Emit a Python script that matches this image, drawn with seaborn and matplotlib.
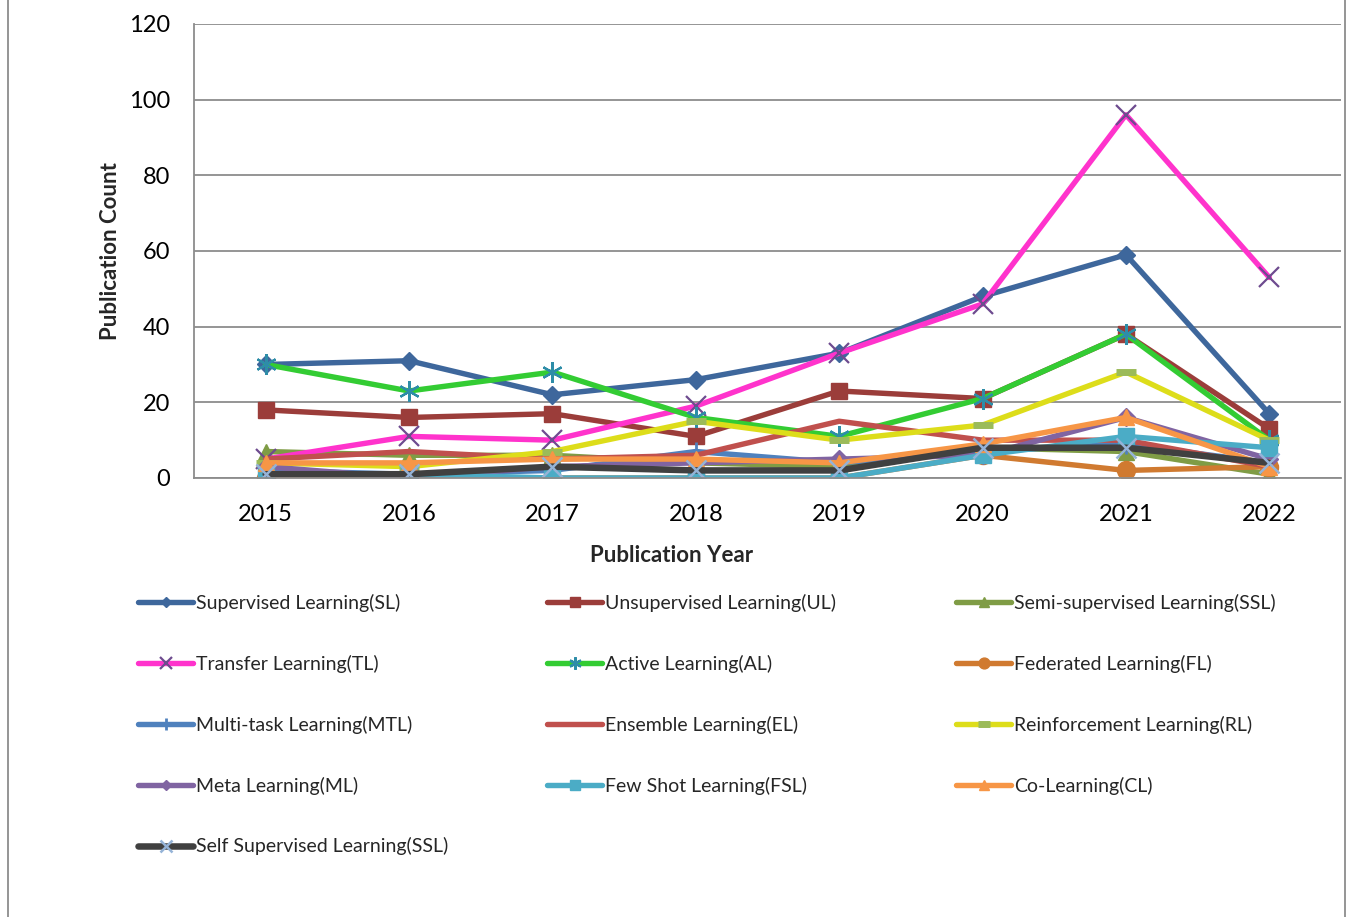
import matplotlib
matplotlib.use("Agg")
import matplotlib.pyplot as plt
import seaborn as sns
from matplotlib.lines import Line2D
from matplotlib.ticker import FixedLocator, MultipleLocator

years = ["2015", "2016", "2017", "2018", "2019", "2020", "2021", "2022"]

sl = [30, 31, 22, 26, 33, 48, 59, 17]
ul = [18, 16, 17, 11, 23, 21, 38, 13]
ssl_semi = [7, 6, 6, 4, 3, 8, 7, 1]
tl = [5, 11, 10, 19, 33, 46, 96, 53]
al = [30, 23, 28, 16, 11, 21, 38, 10]
fl = [0, 0, 0, 0, 0, 6, 2, 3]
mtl = [2, 1, 2, 7, 4, 7, 9, 4]
el = [5, 7, 5, 6, 15, 10, 10, 3]
rl = [4, 3, 7, 15, 10, 14, 28, 10]
ml = [3, 0, 3, 4, 5, 6, 16, 5]
fsl = [1, 1, 0, 0, 0, 6, 11, 8]
cl = [4, 4, 5, 5, 4, 9, 16, 3]
self_ssl = [1, 1, 3, 2, 2, 8, 8, 4]

series_names = [
    "Supervised Learning(SL)", "Unsupervised Learning(UL)", "Semi-supervised Learning(SSL)",
    "Transfer Learning(TL)", "Active Learning(AL)", "Federated Learning(FL)",
    "Multi-task Learning(MTL)", "Ensemble Learning(EL)", "Reinforcement Learning(RL)",
    "Meta Learning(ML)", "Few Shot Learning(FSL)", "Co-Learning(CL)",
    "Self Supervised Learning(SSL)",
]
series_values = [sl, ul, ssl_semi, tl, al, fl, mtl, el, rl, ml, fsl, cl, self_ssl]

# style: line color, marker, marker face, marker edge, marker size, mew, linewidth
styles = [
    ("#3E679C", "D", "#3E679C", "#3E679C", 9, 1, 3.9),
    ("#9B3D3A", "s", "#9B3D3A", "#9B3D3A", 11, 1, 3.9),
    ("#7F9C45", "^", "#7F9C45", "#7F9C45", 11, 1, 3.9),
    ("#FF33CC", "x", "#6E4B8F", "#6E4B8F", 14, 1.6, 3.9),
    ("#33CC33", (6, 2, 0), "#2E8DA8", "#2E8DA8", 15, 1.6, 3.9),
    ("#D07A30", "o", "#D07A30", "#D07A30", 13, 1, 3.9),
    ("#4F81BD", "|", "#4F81BD", "#4F81BD", 14, 2, 3.9),
    ("#C0504D", None, "#C0504D", "#C0504D", 0, 1, 3.9),
    ("#DDDD1A", "_", "#9BBB59", "#9BBB59", 14, 5, 3.9),
    ("#8064A2", "D", "#8064A2", "#8064A2", 9, 1, 3.9),
    ("#4BACC6", "s", "#4BACC6", "#4BACC6", 11, 1, 3.9),
    ("#F79646", "^", "#F79646", "#F79646", 12, 1, 3.9),
    ("#404040", "x", "#95B3D7", "#95B3D7", 14, 1.8, 4.7),
]

sns.set_style("white")
plt.rcParams["font.family"] = ["Lato", "DejaVu Sans"]

fig = plt.figure(figsize=(13.53, 9.17), dpi=100)
ax = fig.add_axes([194 / 1353, 1 - 478 / 917, (1341 - 194) / 1353, (478 - 24) / 917])

xpos = list(range(len(years)))
handles = []
for name, vals, st in zip(series_names, series_values, styles):
    color, marker, mfc, mec, ms, mew, lw = st
    kw = dict(color=color, linewidth=lw, solid_capstyle="round", solid_joinstyle="round")
    if marker is not None:
        kw.update(marker=marker, markersize=ms, markerfacecolor=mfc,
                  markeredgecolor=mec, markeredgewidth=mew)
    sns.lineplot(x=xpos, y=vals, ax=ax, legend=False, **kw)
    h = Line2D([0], [0], color=color, linewidth=lw, solid_capstyle="round",
               marker=marker if marker is not None else None,
               markersize=ms * 0.6 if marker is not None else 0,
               markerfacecolor=mfc, markeredgecolor=mec, markeredgewidth=mew)
    handles.append(h)

ax.set_xlim(-0.5, len(years) - 0.5)
ax.set_ylim(0, 120)
ax.yaxis.set_major_locator(MultipleLocator(20))
ax.set_xticks(xpos)
ax.set_xticklabels(years)
ax.xaxis.set_minor_locator(FixedLocator([i - 0.5 for i in range(len(years) + 1)]))
ax.tick_params(axis="x", which="major", length=0, labelsize=17, pad=19, colors="black")
ax.tick_params(axis="x", which="minor", length=7, width=1.3, color="#888888", direction="out")
ax.tick_params(axis="y", which="major", length=7, width=1.3, color="#888888",
               direction="out", labelsize=17, pad=10)
for lab in ax.get_yticklabels() + ax.get_xticklabels():
    lab.set_color("black")

ax.grid(axis="y", color="#8C8C8C", linewidth=1.3)
ax.grid(axis="x", visible=False)
ax.set_axisbelow(True)
for side in ["top", "right"]:
    ax.spines[side].set_visible(False)
for side in ["left", "bottom"]:
    ax.spines[side].set_color("#8C8C8C")
    ax.spines[side].set_linewidth(1.3)

ax.set_xlabel("Publication Year", fontsize=16, fontweight="bold", labelpad=14)
ax.xaxis.label.set_x((672 - 194) / (1341 - 194))
ax.set_ylabel("Publication Count", fontsize=16, fontweight="bold", labelpad=6)

# Legend in three columns
col_x = [138, 547, 956]
for c in range(3):
    idx = list(range(c, len(series_names), 3))
    fig.legend([handles[i] for i in idx], [series_names[i] for i in idx],
               loc="upper left", bbox_to_anchor=(col_x[c] / 1353, 1 - 594 / 917),
               frameon=False, fontsize=14, handlelength=2.85, handletextpad=0.15,
               labelspacing=2.2, borderaxespad=0, borderpad=0)

# Outer chart border
fig.add_artist(Line2D([8 / 1353, 8 / 1353], [0, 1], transform=fig.transFigure,
                      color="#8C8C8C", linewidth=1.3))
fig.add_artist(Line2D([1345 / 1353, 1345 / 1353], [0, 1], transform=fig.transFigure,
                      color="#8C8C8C", linewidth=1.3))

fig.savefig("out.png", dpi=100)
